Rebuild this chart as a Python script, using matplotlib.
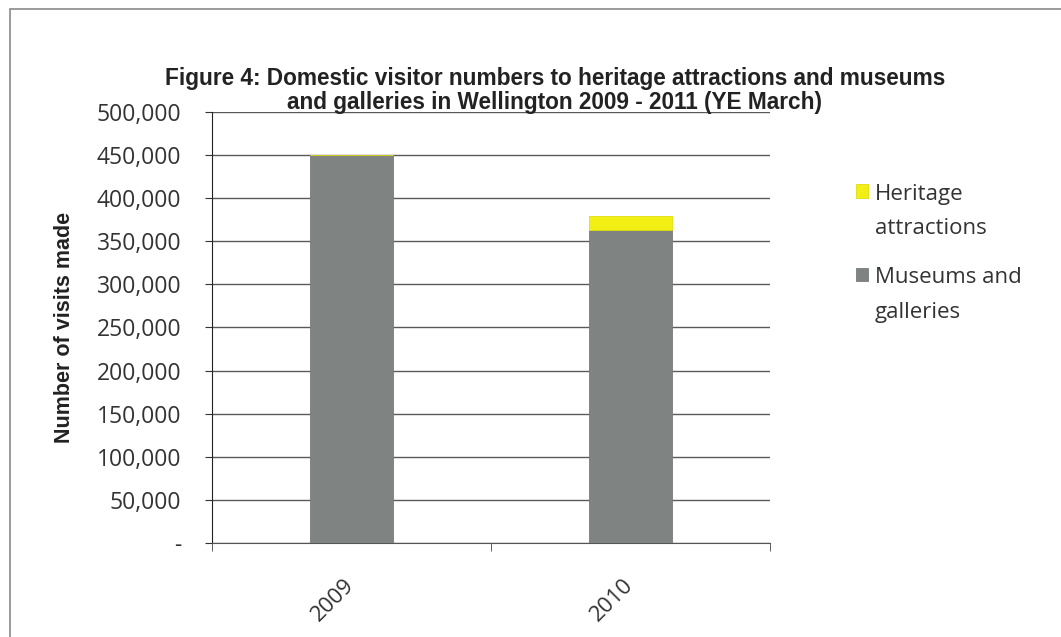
import matplotlib.pyplot as plt
from matplotlib.patches import Rectangle
from matplotlib.legend_handler import HandlerPatch
from matplotlib.ticker import FuncFormatter
from matplotlib.transforms import ScaledTranslation

years = ['2009', '2010']
museums = [450000, 363000]
heritage = [0, 16000]

plt.rcParams['font.family'] = ['Open Sans', 'DejaVu Sans']

fig = plt.figure(figsize=(10.61, 6.37), dpi=100)
ax = fig.add_axes([0.1998, 0.1476, 0.5259, 0.6766])

# frame around the whole chart
fig.patches.append(Rectangle((0.0094, -0.2), 1.2, 1.186, transform=fig.transFigure,
                             fill=False, edgecolor='#8a8a8a', linewidth=1.2))

x = range(len(years))
b_mus = ax.bar(x, museums, width=0.295, color='#7f8482', edgecolor='#777b79', linewidth=0.6,
               zorder=3)
b_her = ax.bar(x, heritage, width=0.295, bottom=museums, color='#f2ef14', edgecolor='#e0dd10',
               linewidth=0.6, zorder=3)

ax.set_xlim(-0.5, 1.5)
ax.set_ylim(0, 500000)
ax.set_yticks(range(0, 500001, 50000))
ax.yaxis.set_major_formatter(FuncFormatter(lambda v, p: '-' if v == 0 else f'{int(v):,}'))
ax.grid(axis='y', color='#5a5a5a', linewidth=1.0, zorder=0)
ax.set_axisbelow(True)

ax.set_xticks(list(x))
ax.set_xticklabels(years, rotation=45, fontsize=16, color='#333333',
                   ha='right', va='center', rotation_mode='anchor')
shift = ScaledTranslation(4 / 72, 0, fig.dpi_scale_trans)
for lbl in ax.get_xticklabels():
    lbl.set_transform(lbl.get_transform() + shift)
ax.set_xticks([-0.5, 0.5, 1.5], minor=True)
ax.tick_params(axis='x', which='major', length=0, pad=28)
ax.tick_params(axis='x', which='minor', length=6, color='#444444', direction='out')
ax.tick_params(axis='y', length=5, color='#333333', labelsize=16.5, labelcolor='#333333', pad=17)

for s in ['top', 'right']:
    ax.spines[s].set_visible(False)
ax.spines['left'].set_color('#222222')
ax.spines['bottom'].set_color('#555555')

ax.set_ylabel('Number of visits made', fontsize=15.5, fontweight='bold',
              family=['Liberation Sans', 'DejaVu Sans'], labelpad=16, color='#222222')

fig.text(0.523, 0.8585, 'Figure 4: Domestic visitor numbers to heritage attractions and museums\n'
         'and galleries in Wellington 2009 - 2011 (YE March)',
         ha='center', va='center', fontsize=16.3, fontweight='bold',
         family=['Liberation Sans', 'DejaVu Sans'], color='#222222', linespacing=1.05)

LEG_FS = 16
LEG_LS = 1.85


def top_patch(legend, orig_handle, xdescent, ydescent, width, height, fontsize):
    # put the colour key next to the first line of a two-line label
    shift = 0.5 * LEG_LS * fontsize * 1.0
    return Rectangle((-xdescent, -ydescent + shift), width, height)


handles = [b_her.patches[-1], b_mus.patches[-1]]
labels = ['Heritage\nattractions', 'Museums and\ngalleries']
leg = ax.legend(handles, labels, loc='upper left', bbox_to_anchor=(1.118, 0.88),
                frameon=False, fontsize=LEG_FS, handlelength=0.55, handleheight=0.55,
                handletextpad=0.3, labelspacing=1.25, labelcolor='#333333',
                handler_map={h: HandlerPatch(patch_func=top_patch) for h in handles})
for t in leg.get_texts():
    t.set_linespacing(LEG_LS)

fig.savefig('out.png', dpi=100)
